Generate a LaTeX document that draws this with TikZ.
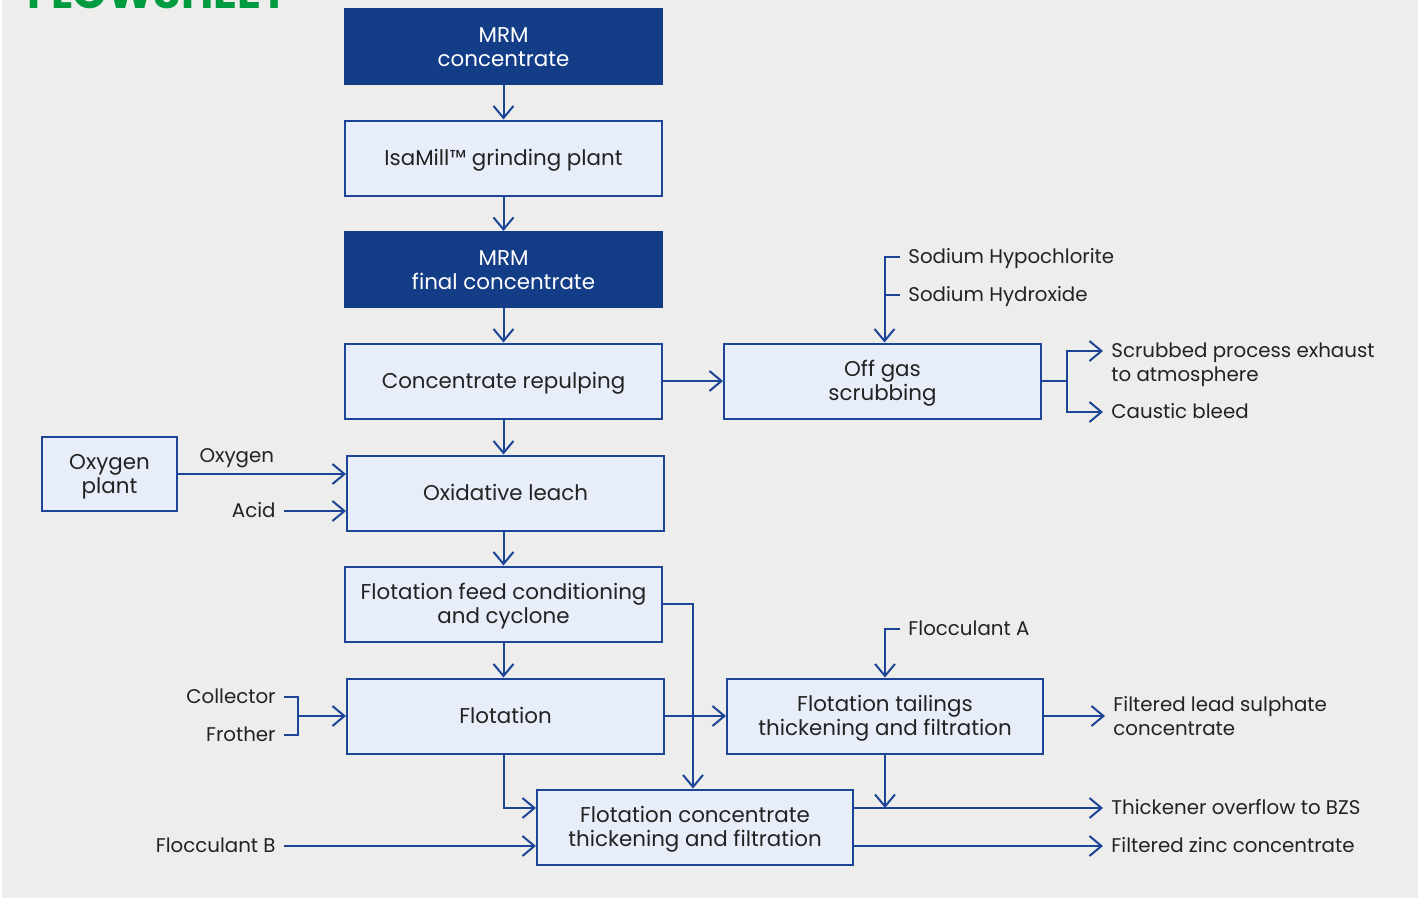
\documentclass[tikz,border=0pt]{standalone}
\usepackage{fontspec}
\setmainfont{Poppins}
\usetikzlibrary{arrows.meta,calc}
\definecolor{bg}{HTML}{EDEDEB}
\definecolor{dk}{HTML}{143D88}
\definecolor{ln}{HTML}{1D4597}
\definecolor{lf}{HTML}{E8EEF9}
\definecolor{tx}{HTML}{222222}
\definecolor{gr}{HTML}{009B3F}
\begin{document}
\begin{tikzpicture}[x=0.5pt,y=-0.5pt,
  box/.style={draw=ln, line width=1pt, fill=lf, text=tx, align=center, minimum width=158.5pt, minimum height=37.5pt, inner sep=0pt, font=\fontsize{10.7}{12}\selectfont, text height=7.5pt, text depth=0pt},
  two/.style={text height=19.5pt, text depth=0pt},
  dbox/.style={box, fill=dk, draw=dk, text=white},
  lab/.style={text=tx, inner xsep=4pt, inner ysep=0pt, text height=6.9pt, text depth=0pt, font=\fontsize{9.9}{12}\selectfont},
  mlab/.style={text=tx, inner xsep=4pt, inner ysep=0pt, align=left, font=\fontsize{9.9}{12}\selectfont},
  con/.style={draw=ln, line width=1pt},
  arr/.style={con, -{Straight Barb[length=6pt,width=10pt]}},
]
\useasboundingbox (0,0) rectangle (1418,900);
\clip (0,0) rectangle (1418,900);
\fill[white] (0,0) rectangle (1418,900);
\fill[bg] (2,0) rectangle (1418,898);
\node[anchor=base west, text=gr, font=\fontsize{22.1}{22}\selectfont\bfseries, inner sep=0pt] (title) at (27,8) {FLOWSHEET};

\node[dbox, two] (mrm) at (503.5,46.5) {MRM\\concentrate};
\node[box] (isa) at (503.5,158) {IsaMill™ grinding plant};
\node[dbox, two] (fin) at (503.5,269.5) {MRM\\final concentrate};
\node[box] (rep) at (503.5,381) {Concentrate repulping};
\node[box, two] (off) at (882.5,381) {Off gas\\scrubbing};
\node[box, two, minimum width=67.5pt, minimum height=37pt] (oxp) at (109.5,474) {Oxygen\\plant};
\node[box] (leach) at (505.5,493) {Oxidative leach};
\node[box, two] (ffc) at (503.5,604) {Flotation feed conditioning\\and cyclone};
\node[box] (flot) at (505.5,716) {Flotation};
\node[box, two, minimum width=158pt] (tail) at (885,716) {Flotation tailings\\thickening and filtration};
\node[box, two, minimum width=158pt] (conc) at (695,827) {Flotation concentrate\\thickening and filtration};

\draw[arr] (mrm) -- (isa);
\draw[arr] (isa) -- (fin);
\draw[arr] (fin) -- (rep);
\draw[arr] (rep) -- (off);
\draw[arr] (rep.south) -- (rep.south |- leach.north);
\draw[arr] (leach.south -| ffc) -- (ffc.north);
\draw[arr] (ffc.south) -- (ffc.south |- flot.north);

% off gas reagents
\coordinate (shc) at (900,257);
\coordinate (shy) at (900,295);
\coordinate (offin) at ([xshift=1pt]off.north);
\draw[arr] (shc) -| (offin);
\draw[con] (shy) -- (shy -| offin);
\node[lab, anchor=west] (nahc) at (shc) {Sodium Hypochlorite};
\node[lab, anchor=west] (naoh) at (shy) {Sodium Hydroxide};

% off gas outputs
\coordinate (obr) at (1067,381);
\coordinate (scr) at (1103,351);
\coordinate (cau) at (1103,412);
\draw[arr] (off.east) -- (obr) |- (scr);
\draw[arr] (obr) |- (cau);
\node[mlab, anchor=base west] (scrl) at ($(scr)+(0,30.9)$) {Scrubbed process exhaust\\to atmosphere};
\node[lab, anchor=west] (caul) at (cau) {Caustic bleed};

% leach inputs
\draw[arr] (oxp) -- (oxp -| leach.west) node[lab, pos=0.35, yshift=9pt] (oxl) {Oxygen};
\node[lab, anchor=east] (acid) at (284,511) {Acid};
\draw[arr] (acid.east) -- (acid.east -| leach.west);

% flotation reagents
\node[lab, anchor=east] (col) at (284,697) {Collector};
\node[lab, anchor=east] (fro) at (284,735) {Frother};
\coordinate (cfb) at (298,716);
\draw[con] (col.east) -| (cfb) |- (fro.east);
\draw[arr] (cfb) -- (cfb -| flot.west);

% bypass
\coordinate (byp) at (693,604);
\draw[arr] (ffc.east) -- (byp) -- (byp |- conc.north);

\draw[arr] (flot) -- (tail);

% flocculant A
\coordinate (fac) at (900,629);
\draw[arr] (fac) -| (tail.north);
\node[lab, anchor=west] (facl) at (fac) {Flocculant A};

% tailings outputs
\coordinate (fls) at (1105,716);
\draw[arr] (tail) -- (fls);
\node[mlab, anchor=west] (flsl) at (fls) {Filtered lead sulphate\\concentrate};
\coordinate (tho) at (1103,808);
\draw[arr] (tail.south) -- (tail.south |- tho);
\draw[arr] (conc.east |- tho) -- (tho);
\node[lab, anchor=west] (thol) at (tho) {Thickener overflow to BZS};

% flotation concentrate
\draw[arr] (flot.south -| ffc) |- (conc.west |- tho);
\node[lab, anchor=east] (fb) at (284,846) {Flocculant B};
\draw[arr] (fb.east) -- (fb.east -| conc.west);
\coordinate (fz) at (1103,846);
\draw[arr] (conc.east |- fz) -- (fz);
\node[lab, anchor=west] (fzl) at (fz) {Filtered zinc concentrate};
\end{tikzpicture}
\end{document}
